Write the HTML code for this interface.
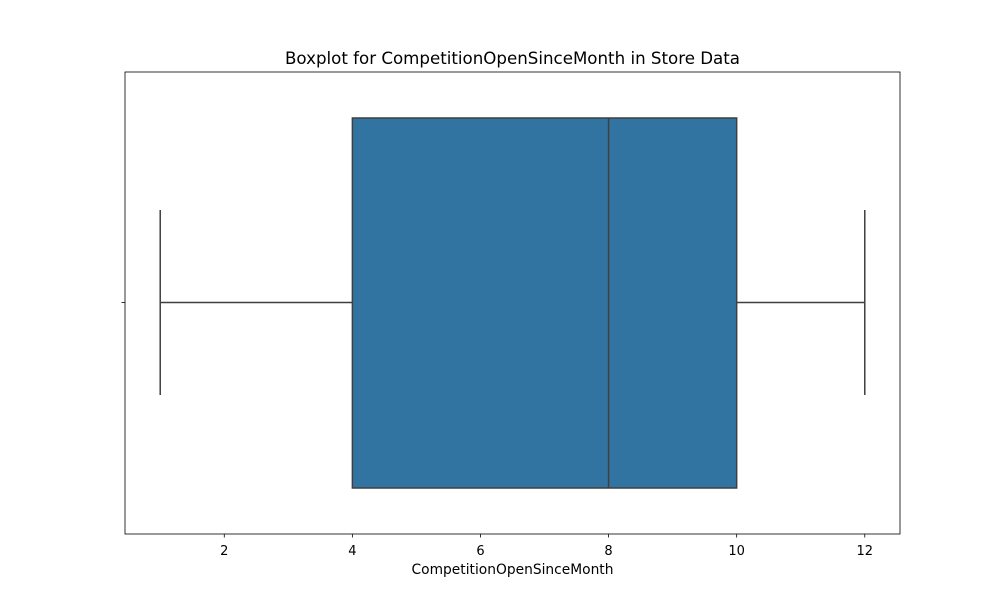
<!DOCTYPE html>
<html><head><meta charset="utf-8"><style>
body{margin:0;background:#fff;}
svg{display:block;font-family:"DejaVu Sans","Liberation Sans",sans-serif;}
</style></head><body>
<svg id="chart" width="1000" height="600" viewBox="0 0 1000 600">
<rect x="0" y="0" width="1000" height="600" fill="#fff"/>
<text x="512.5" y="64" text-anchor="middle" font-size="16.67" fill="#000">Boxplot for CompetitionOpenSinceMonth in Store Data</text>
<g id="plot"></g>
<rect x="125" y="72" width="775" height="462" fill="none" stroke="#000" stroke-width="0.8"/>
<line x1="121.5" y1="302.5" x2="125" y2="302.5" stroke="#000" stroke-width="0.8"/>
<text x="512.5" y="574" text-anchor="middle" font-size="13.8" fill="#000">CompetitionOpenSinceMonth</text>
</svg>
<script>
const stats = { min: 1, q1: 4, median: 8, q3: 10, max: 12 };
const xTicks = [2, 4, 6, 8, 10, 12];
const xDomain = [0.45, 12.55];
const L = 125, R = 900, T = 72, B = 534;
const x = v => L + (v - xDomain[0]) / (xDomain[1] - xDomain[0]) * (R - L);
const ns = 'http://www.w3.org/2000/svg';
const g = document.getElementById('plot');
function mk(tag, attrs) { const e = document.createElementNS(ns, tag); for (const k in attrs) e.setAttribute(k, attrs[k]); g.appendChild(e); return e; }
const cy = 302.5, boxTop = 118, boxBot = 488, capTop = 210, capBot = 395;
const stroke = '#3f3f3f';
let e;
e = mk('line', { x1: x(stats.min), y1: cy, x2: x(stats.q1), y2: cy, stroke, 'stroke-width': 1.5 });


e = mk('line', { x1: x(stats.q3), y1: cy, x2: x(stats.max), y2: cy, stroke, 'stroke-width': 1.5 });


e = mk('line', { x1: x(stats.min), y1: capTop, x2: x(stats.min), y2: capBot, stroke, 'stroke-width': 1.5 });


e = mk('line', { x1: x(stats.max), y1: capTop, x2: x(stats.max), y2: capBot, stroke, 'stroke-width': 1.5 });


e = mk('rect', { x: x(stats.q1), y: boxTop, width: x(stats.q3) - x(stats.q1), height: boxBot - boxTop, fill: '#3274a1', stroke, 'stroke-width': 1.5 });


e = mk('line', { x1: x(stats.median), y1: boxTop, x2: x(stats.median), y2: boxBot, stroke, 'stroke-width': 1.5 });


xTicks.forEach(t => {
  const tk = mk('line', { x1: x(t), y1: B, x2: x(t), y2: B + 3.5, stroke: '#000', 'stroke-width': 0.8 });
  
  
  const lb = mk('text', { x: x(t), y: B + 21, 'text-anchor': 'middle', 'font-size': 13, fill: '#000' });
  lb.textContent = t;
  
  
});
</script>
</body></html>
